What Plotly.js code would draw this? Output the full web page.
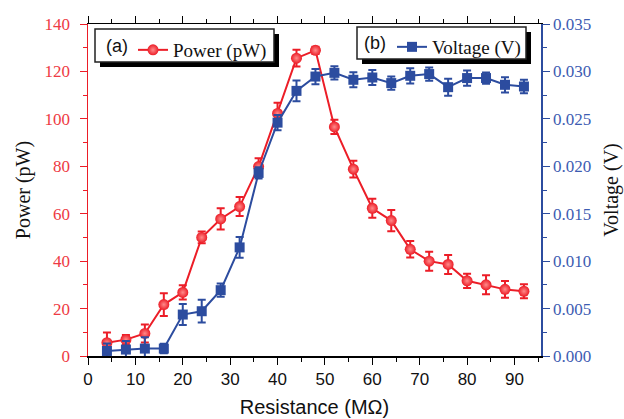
<!DOCTYPE html>
<html><head><meta charset="utf-8">
<script src="https://cdn.plot.ly/plotly-3.0.1.min.js"></script>
<style>html,body{margin:0;padding:0;background:#fff}#chart{width:624px;height:419px}</style>
</head><body><div id="chart"></div>
<script>
const resistance = [4,8,12,16,20,24,28,32,36,40,44,48,52,56,60,64,68,72,76,80,84,88,92];
const power = [5.6,6.9,9.5,21.7,26.8,50.0,57.8,63.0,79.9,102.3,125.6,128.9,96.6,78.8,62.3,57.1,45.0,40.0,38.6,31.7,30.0,28.1,27.3];
const powerErr = [4.3,2.0,3.8,4.8,3.0,2.5,4.5,4.0,3.5,4.5,3.5,1.5,3.0,3.5,4.0,4.5,3.5,4.0,4.0,3.0,4.0,3.5,3.0];
const voltage = [0.00053,0.00068,0.00078,0.00078,0.00437,0.00472,0.00694,0.01145,0.0193,0.0246,0.02795,0.02946,0.02985,0.02912,0.02936,0.02877,0.02954,0.02972,0.02834,0.0293,0.0293,0.02859,0.02841];
const voltageErr = [0.0008,0.0009,0.0012,0.0005,0.0011,0.0012,0.0007,0.0011,0.0006,0.0008,0.0011,0.0008,0.0007,0.0008,0.0008,0.0007,0.0008,0.0007,0.0009,0.0008,0.0006,0.0008,0.0007];
const xTitle = 'Resistance (MΩ)';
const yTitle = 'Power (pW)';
const y2Title = 'Voltage (V)';

const RED = '#ec1d27', BLUE = '#2c4c9f';
const RED_TXT = '#ee3a43', BLUE_TXT = '#3d5cb2';
const SERIF = 'Liberation Serif, Times New Roman, serif';
const SANS = 'Liberation Sans, Arial, sans-serif';

const W=624,H=419,L=88,R=83,T=24,B=63;
const pw=W-L-R, ph=H-T-B;
const px=x=>(x-L)/pw, py=y=>(H-B-y)/ph;

const traces = [
  {x: resistance, y: power, name: 'Power (pW)', type:'scatter', mode:'lines+markers',
   yaxis:'y', legend:'legend',
   line:{color:RED, width:2},
   marker:{symbol:'circle', size:11, color:RED, gradient:{type:'radial', color:'#ff8a8a'}},
   error_y:{type:'data', array: powerErr, visible:true, color:RED, thickness:2, width:4}},
  {x: resistance, y: voltage, name: 'Voltage (V)', type:'scatter', mode:'lines+markers',
   yaxis:'y2', legend:'legend2',
   line:{color:BLUE, width:2},
   marker:{symbol:'square', size:10, color:BLUE},
   error_y:{type:'data', array: voltageErr, visible:true, color:BLUE, thickness:2, width:4}}
];

function rect(x0,y0,x1,y1,fill,line){
  return {type:'rect', xref:'paper', yref:'paper', x0:px(x0), x1:px(x1), y0:py(y1), y1:py(y0),
    fillcolor:fill, line:{color:line||fill, width: line?1.5:0}, layer:'above'};
}

const layout = {
  width:W, height:H, margin:{l:L, r:R, t:T, b:B},
  paper_bgcolor:'#fff', plot_bgcolor:'#fff',
  showlegend:true,
  xaxis:{range:[0,95.6], dtick:10, tick0:0, ticks:'outside', ticklen:7, tickwidth:1, tickcolor:'#000',
    showline:true, linecolor:'#000', linewidth:1.5, mirror:'ticks', showgrid:false, zeroline:false,
    minor:{dtick:5, ticks:'outside', ticklen:4, tickcolor:'#000', showgrid:false},
    tickfont:{family:SANS, size:17, color:'#111'},
    title:{text:xTitle, font:{family:SANS, size:20, color:'#111'}, standoff:12}},
  yaxis:{range:[0,140], dtick:20, tick0:0, ticks:'outside', ticklen:7, tickwidth:1, tickcolor:RED,
    showline:true, linecolor:RED, linewidth:1.5, showgrid:false, zeroline:false,
    minor:{dtick:10, ticks:'outside', ticklen:4, tickcolor:RED, showgrid:false},
    ticklabelstandoff:6,
    tickfont:{family:SERIF, size:17, color:RED_TXT},
    title:{text:yTitle, font:{family:SERIF, size:20, color:'#111'}, standoff:8}},
  yaxis2:{range:[0,0.035], dtick:0.005, tick0:0, tickformat:'.3f', overlaying:'y', side:'right',
    ticks:'outside', ticklen:7, tickwidth:1, tickcolor:BLUE,
    showline:true, linecolor:BLUE, linewidth:1.5, showgrid:false, zeroline:false,
    minor:{dtick:0.0025, ticks:'outside', ticklen:4, tickcolor:BLUE, showgrid:false},
    tickfont:{family:SERIF, size:17, color:BLUE_TXT},
    title:{text:y2Title, font:{family:SERIF, size:20, color:'#111'}, standoff:14}},
  legend:{x:px(133), y:py(31), xanchor:'left', yanchor:'top', bgcolor:'rgba(0,0,0,0)', borderwidth:0,
    font:{family:SERIF, size:19, color:'#111'}},
  legend2:{x:px(392), y:py(28), xanchor:'left', yanchor:'top', bgcolor:'rgba(0,0,0,0)', borderwidth:0,
    font:{family:SERIF, size:19, color:'#111'}},
  shapes:[
    rect(100,34,279,67,'#000'),
    rect(95,29,274,62,'#fff','#222'),
    rect(362,32,531,64,'#000'),
    rect(357,27,526,59,'#fff','#222')
  ],
  annotations:[
    {text:'(a)', xref:'paper', yref:'paper', x:px(104), y:py(45.5), xanchor:'left', yanchor:'middle',
     showarrow:false, font:{family:SANS, size:18, color:'#111'}},
    {text:'(b)', xref:'paper', yref:'paper', x:px(362), y:py(43), xanchor:'left', yanchor:'middle',
     showarrow:false, font:{family:SANS, size:18, color:'#111'}}
  ]
};

Plotly.newPlot('chart', traces, layout, {displayModeBar:false, staticPlot:true});
</script></body></html>
